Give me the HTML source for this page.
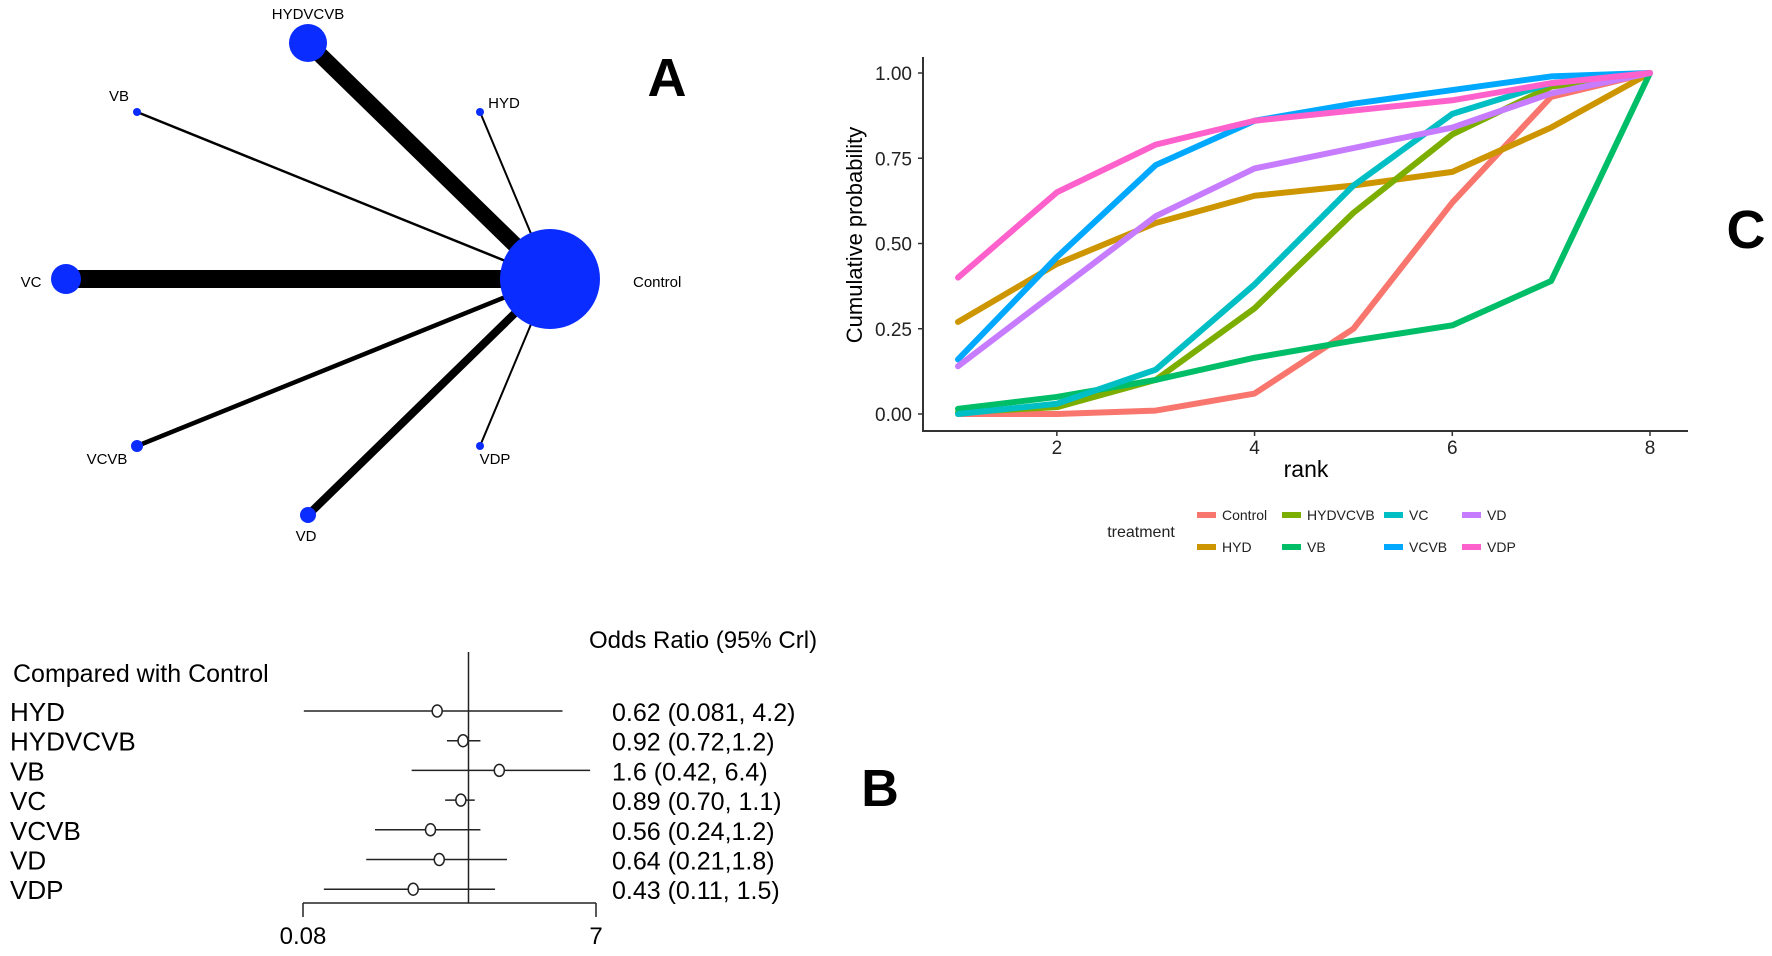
<!DOCTYPE html>
<html><head><meta charset="utf-8"><style>
html,body{margin:0;padding:0;background:#fff;}
svg{display:block;font-family:"Liberation Sans",Arial,sans-serif;}
</style></head><body>
<svg id="fig" width="1772" height="956" viewBox="0 0 1772 956" xmlns="http://www.w3.org/2000/svg">
<rect width="1772" height="956" fill="#fff"/>
<g id="net"></g>
<text x="667" y="96" font-size="54" font-weight="bold" text-anchor="middle">A</text>
<g id="rank"></g>
<text x="1746" y="248" font-size="54" font-weight="bold" text-anchor="middle">C</text>
<g id="forest"></g>
<text x="880" y="806" font-size="52" font-weight="bold" text-anchor="middle">B</text>
</svg>
<script>
const NS="http://www.w3.org/2000/svg";
function mk(parent,tag,attrs,text){const e=document.createElementNS(NS,tag);for(const k in attrs)e.setAttribute(k,attrs[k]);if(text!==undefined)e.textContent=text;parent.appendChild(e);return e;}

// ---------- Network (A) ----------
const netNodes=["Control","HYDVCVB","VB","HYD","VC","VCVB","VDP","VD"];
const netSizes=[50,19,4,4,15,6,4,8];
const netEdgeWidths=[0,16,2.5,2,18,4.5,2,8];
const netPos=[[550,279],[308,43],[137,112],[480,112],[66,279],[137,446],[480,446],[308,515]];
const netLabelPos=[[633,282,"start"],[308,14,"middle"],[119,96,"middle"],[504,103,"middle"],[31,282,"middle"],[107,459,"middle"],[495,459,"middle"],[306,536,"middle"]];
const net=document.getElementById('net');
for(let i=1;i<netNodes.length;i++){
  const l=mk(net,'line',{x1:netPos[0][0],y1:netPos[0][1],x2:netPos[i][0],y2:netPos[i][1],stroke:'#000','stroke-width':netEdgeWidths[i]});
  
  
}
for(let i=0;i<netNodes.length;i++){
  const c=mk(net,'circle',{cx:netPos[i][0],cy:netPos[i][1],r:netSizes[i],fill:'#0a2cff'});
  
  
  const t=mk(net,'text',{x:netLabelPos[i][0],y:netLabelPos[i][1]+5,'font-size':15,'text-anchor':netLabelPos[i][2]},netNodes[i]);
  
  
}

// ---------- Rankogram (C) ----------
const ranks=[1,2,3,4,5,6,7,8];
const treatments=["Control","HYD","HYDVCVB","VB","VC","VCVB","VD","VDP"];
const colors=["#F8766D","#CD9600","#7CAE00","#00BE67","#00BFC4","#00A9FF","#C77CFF","#FF61CC"];
const sControl=[0,0,0.01,0.06,0.25,0.62,0.93,1.0];
const sHYD=[0.27,0.44,0.56,0.64,0.67,0.71,0.84,1.0];
const sHYDVCVB=[0.005,0.02,0.10,0.31,0.59,0.82,0.96,1.0];
const sVB=[0.015,0.05,0.10,0.165,0.215,0.26,0.39,1.0];
const sVC=[0.0,0.03,0.13,0.38,0.67,0.88,0.97,1.0];
const sVCVB=[0.16,0.46,0.73,0.86,0.91,0.95,0.99,1.0];
const sVD=[0.14,0.36,0.58,0.72,0.78,0.84,0.94,1.0];
const sVDP=[0.40,0.65,0.79,0.86,0.89,0.92,0.97,1.0];
const yTicks=[0,0.25,0.5,0.75,1.0];
const yTickLabels=["0.00","0.25","0.50","0.75","1.00"];
const xTicks=[2,4,6,8];
const series=[sControl,sHYD,sHYDVCVB,sVB,sVC,sVCVB,sVD,sVDP];
const rx=v=>958+(v-1)*(1650-958)/7;
const ry=v=>414-v*(414-73);
const rk=document.getElementById('rank');
let e;
e=mk(rk,'line',{x1:923,y1:57,x2:923,y2:431,stroke:'#333','stroke-width':2});

e=mk(rk,'line',{x1:922,y1:431,x2:1688,y2:431,stroke:'#333','stroke-width':2});

yTicks.forEach((v,i)=>{
  mk(rk,'line',{x1:918,y1:ry(v),x2:923,y2:ry(v),stroke:'#333','stroke-width':1.5});
  const t=mk(rk,'text',{x:912,y:ry(v)+7,'font-size':19,'text-anchor':'end',fill:'#222'},yTickLabels[i]);
  
});
xTicks.forEach(v=>{
  mk(rk,'line',{x1:rx(v),y1:431,x2:rx(v),y2:436,stroke:'#333','stroke-width':1.5});
  const t=mk(rk,'text',{x:rx(v),y:454,'font-size':19,'text-anchor':'middle',fill:'#222'},String(v));
  
});
e=mk(rk,'text',{x:1306,y:477,'font-size':23,'text-anchor':'middle'},'rank');

e=mk(rk,'text',{x:862,y:235,'font-size':22,'text-anchor':'middle',transform:'rotate(-90 862 235)'},'Cumulative probability');

series.forEach((s,i)=>{
  const d=s.map((v,j)=>(j?'L':'M')+rx(ranks[j])+' '+ry(v)).join(' ');
  const p=mk(rk,'path',{d:d,fill:'none',stroke:colors[i],'stroke-width':6,'stroke-linejoin':'round','stroke-linecap':'round'});
  
  
});
// legend
e=mk(rk,'text',{x:1141,y:537,'font-size':16,'text-anchor':'middle',fill:'#222'},'treatment');

const legCols=[1197,1282,1384,1462];
const legOrder=[[0,2,4,6],[1,3,5,7]];
const legRows=[515,547];
legOrder.forEach((row,r)=>row.forEach((ti,c)=>{
  const g=mk(rk,'g',{});
  
  
  mk(g,'line',{x1:legCols[c],y1:legRows[r],x2:legCols[c]+19,y2:legRows[r],stroke:colors[ti],'stroke-width':6});
  mk(g,'text',{x:legCols[c]+25,y:legRows[r]+5,'font-size':14,fill:'#222'},treatments[ti]);
}));

// ---------- Forest (B) ----------
const fLabels=["HYD","HYDVCVB","VB","VC","VCVB","VD","VDP"];
const fOR=[0.62,0.92,1.6,0.89,0.56,0.64,0.43];
const fLo=[0.081,0.72,0.42,0.70,0.24,0.21,0.11];
const fHi=[4.2,1.2,6.4,1.1,1.2,1.8,1.5];
const fText=["0.62 (0.081, 4.2)","0.92 (0.72,1.2)","1.6 (0.42, 6.4)","0.89 (0.70, 1.1)","0.56 (0.24,1.2)","0.64 (0.21,1.8)","0.43 (0.11, 1.5)"];
const fAxisTicks=[0.08,7];
const fAxisLabels=["0.08","7"];
const fx=v=>303+(Math.log10(v)-Math.log10(0.08))*(596-303)/(Math.log10(7)-Math.log10(0.08));
const fy=i=>711+i*29.7;
const fo=document.getElementById('forest');
e=mk(fo,'text',{x:13,y:682,'font-size':25},'Compared with Control');

e=mk(fo,'text',{x:589,y:648,'font-size':24},'Odds Ratio (95% Crl)');

e=mk(fo,'line',{x1:fx(1),y1:652,x2:fx(1),y2:903,stroke:'#222','stroke-width':1.5});

e=mk(fo,'line',{x1:fx(0.08),y1:903,x2:fx(7),y2:903,stroke:'#222','stroke-width':1.5});

fAxisTicks.forEach((v,i)=>{
  mk(fo,'line',{x1:fx(v),y1:903,x2:fx(v),y2:917,stroke:'#222','stroke-width':1.5});
  const t=mk(fo,'text',{x:fx(v),y:944,'font-size':24,'text-anchor':'middle'},fAxisLabels[i]);
  
});
fLabels.forEach((lab,i)=>{
  const y=fy(i);
  let t=mk(fo,'text',{x:10,y:y+10,'font-size':26},lab);
  
  const l=mk(fo,'line',{x1:fx(fLo[i]),y1:y,x2:fx(fHi[i]),y2:y,stroke:'#222','stroke-width':1.5});
  
  const c=mk(fo,'ellipse',{cx:fx(fOR[i]),cy:y,rx:5,ry:6,fill:'#fff',stroke:'#222','stroke-width':1.5});
  
  t=mk(fo,'text',{x:612,y:y+10,'font-size':25},fText[i]);
  
});
</script>
</body></html>
